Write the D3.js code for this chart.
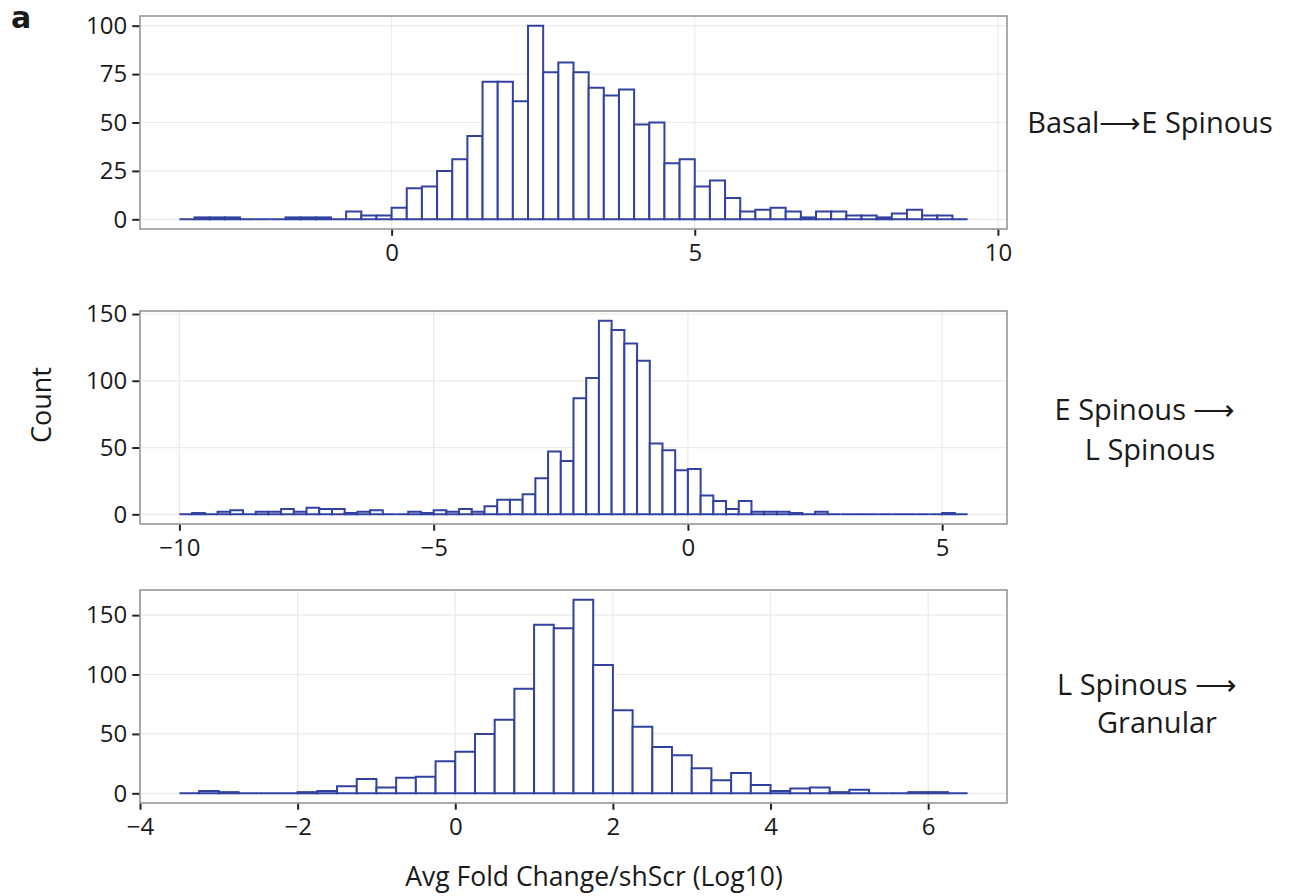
<!DOCTYPE html>
<html>
<head>
<meta charset="utf-8">
<script src="https://cdn.jsdelivr.net/npm/d3@7"></script>
<style>
  body { margin: 0; background: #fff; }
  text { font-family: "Open Sans", "Noto Sans", sans-serif; fill: #1a1a1a; }
</style>
</head>
<body>
<svg id="chart" width="1298" height="896"></svg>
<script>
// bin width shared by the three histograms (log10 units)
var binWidth = 0.25;

// Basal -> E Spinous, bins start at -3.5
var basalStart = -3.5;
var basalCounts = [0,1,1,1,0,0,0,1,1,1,0,4,2,2,6,16,17,25,31,43,71,71,61,100,76,81,
                   76,68,64,67,49,50,29,31,17,20,11,4,5,6,4,1,4,4,2,2,1,3,5,2,2,0];
var basalXTicks = [0, 5, 10];
var basalYTicks = [0, 25, 50, 75, 100];

// E Spinous -> L Spinous, bins start at -10
var esStart = -10;
var esCounts = [0,1,0,2,3,0,2,2,4,2,5,4,4,1,2,3,0,0,2,1,3,2,4,2,6,11,11,15,27,47,40,
                87,102,145,138,128,115,53,48,33,34,14,10,4,10,2,2,2,1,0,2,0,0,0,0,0,0,0,0,0,1,0];
var esXTicks = [-10, -5, 0, 5];
var esYTicks = [0, 50, 100, 150];

// L Spinous -> Granular, bins start at -3.5
var lsStart = -3.5;
var lsCounts = [0,2,1,0,0,0,1,2,6,12,5,13,14,27,35,50,62,88,142,139,163,108,70,56,39,32,
                21,11,17,7,2,4,5,1,3,0,0,1,1,0];
var lsXTicks = [-4, -2, 0, 2, 4, 6];
var lsYTicks = [0, 50, 100, 150];

var stripLabels = [["Basal\u27F6E Spinous"], ["E Spinous \u27F6", "L Spinous"], ["L Spinous \u27F6", "Granular"]];

var svg = d3.select("#chart");
var left = 140, right = 1007, ph = 213;
var tops = [16, 311, 590];
var barColor = "#3142a0";

// where each strip label line sits: [x, y] per line
var stripPos = [
  [[1150, 133]],
  [[1145, 420], [1150, 460]],
  [[1147, 695], [1157, 733]]
];

var panels = [
  {start: basalStart, counts: basalCounts, xt: basalXTicks, yt: basalYTicks},
  {start: esStart, counts: esCounts, xt: esXTicks, yt: esYTicks},
  {start: lsStart, counts: lsCounts, xt: lsXTicks, yt: lsYTicks}
];

panels.forEach(function(p, i){
  var top = tops[i];
  var bins = p.counts.map(function(c, k){
    return {x0: p.start + k*binWidth, x1: p.start + (k+1)*binWidth, n: c};
  });
  var lo = bins[0].x0, hi = bins[bins.length-1].x1, span = hi - lo;
  var ymax = d3.max(p.counts);

  var x = d3.scaleLinear().domain([lo - 0.05*span, hi + 0.05*span]).range([left, right]);
  var y = d3.scaleLinear().domain([-0.05*ymax, 1.05*ymax]).range([top + ph, top]);

  var g = svg.append("g");

  // grid
  g.selectAll("line.hgrid").data(p.yt).enter().append("line")
    .attr("x1", left).attr("x2", right)
    .attr("y1", function(d){ return y(d); }).attr("y2", function(d){ return y(d); })
    .attr("stroke", "#ebebeb").attr("stroke-width", 1.2);
  g.selectAll("line.vgrid").data(p.xt).enter().append("line")
    .attr("y1", top).attr("y2", top + ph)
    .attr("x1", function(d){ return x(d); }).attr("x2", function(d){ return x(d); })
    .attr("stroke", "#ebebeb").attr("stroke-width", 1.2);

  // bars as paths so that empty bins still show as a flat line
  g.selectAll("path.bar").data(bins).enter().append("path")
    .attr("d", function(d){
      var pa = d3.path();
      pa.moveTo(x(d.x0), y(0));
      pa.lineTo(x(d.x0), y(d.n));
      pa.lineTo(x(d.x1), y(d.n));
      pa.lineTo(x(d.x1), y(0));
      pa.closePath();
      return pa.toString();
    })
    .attr("fill", "#fff")
    .attr("stroke", barColor)
    .attr("stroke-width", 2)
    .attr("stroke-linejoin", "miter");

  // frame
  g.append("rect")
    .attr("x", left).attr("y", top).attr("width", right - left).attr("height", ph)
    .attr("fill", "none").attr("stroke", "#8f8f8f").attr("stroke-width", 1.5);

  // axes
  var ya = g.append("g").attr("transform", "translate(" + (left - 0.75) + ",0)")
    .call(d3.axisLeft(y).tickValues(p.yt).tickSize(7).tickPadding(5));
  var xa = g.append("g").attr("transform", "translate(0," + (top + ph + 0.75) + ")")
    .call(d3.axisBottom(x).tickValues(p.xt).tickSize(6).tickPadding(8).tickFormat(d3.format("d")));
  [ya, xa].forEach(function(a){
    a.select(".domain").remove();
    a.selectAll(".tick line").attr("stroke", "#222").attr("stroke-width", 2);
    a.selectAll(".tick text").attr("font-size", 24).attr("fill", "#1a1a1a")
      .style("font-family", "'Open Sans', sans-serif");
  });

  // strip label on the right
  var lt = svg.append("text").attr("font-size", 29).attr("text-anchor", "middle");
  stripLabels[i].forEach(function(s, k){
    lt.append("tspan").attr("x", stripPos[i][k][0]).attr("y", stripPos[i][k][1]).text(s);
  });
});

svg.append("text").attr("x", 11).attr("y", 28).attr("font-size", 30)
  .attr("font-weight", "bold").style("font-family", "'DejaVu Sans', sans-serif").text("a");

svg.append("text")
  .attr("transform", "translate(51,405) rotate(-90)")
  .attr("text-anchor", "middle").attr("font-size", 27).text("Count");

svg.append("text").attr("x", 594).attr("y", 886).attr("text-anchor", "middle")
  .attr("font-size", 26.5).text("Avg Fold Change/shScr (Log10)");
</script>
</body>
</html>
